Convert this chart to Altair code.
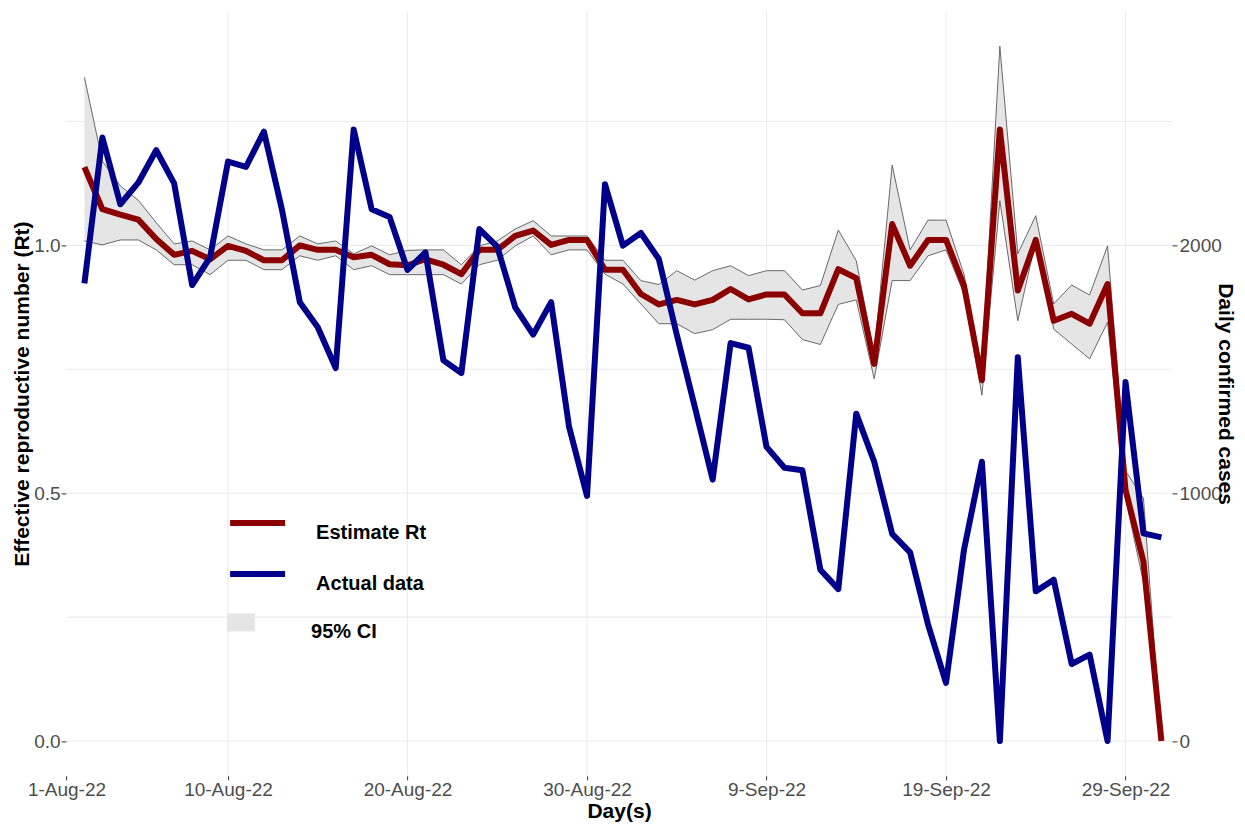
import altair as alt
import pandas as pd

F = "Liberation Sans"

# ---- data ----
dates = pd.date_range("2022-08-02", "2022-10-01", freq="D").strftime("%Y-%m-%d").tolist()

cases = [1847, 2435, 2166, 2253, 2384, 2250, 1840, 1952, 2338, 2317,
         2459, 2146, 1771, 1670, 1505, 2468, 2146, 2115, 1901, 1972,
         1536, 1485, 2066, 1995, 1750, 1640, 1771, 1268, 989, 2247,
         1999, 2050, 1945, 1640, 1350, 1055, 1606, 1587, 1187, 1103,
         1093, 691, 613, 1321, 1127, 836, 761, 470, 235, 771,
         1127, 0, 1549, 604, 651, 311, 349, 0, 1449, 838,
         822]

rt = [1.158, 1.073, 1.062, 1.052, 1.013, 0.981, 0.989, 0.972, 0.999, 0.989,
      0.970, 0.970, 1.000, 0.991, 0.991, 0.976, 0.981, 0.962, 0.960, 0.972,
      0.961, 0.942, 0.991, 0.991, 1.019, 1.030, 1.001, 1.011, 1.011, 0.951,
      0.951, 0.902, 0.881, 0.890, 0.881, 0.890, 0.912, 0.891, 0.901, 0.901,
      0.863, 0.863, 0.952, 0.934, 0.761, 1.043, 0.959, 1.011, 1.011, 0.919,
      0.728, 1.234, 0.909, 1.011, 0.848, 0.862, 0.842, 0.922, 0.507, 0.362,
      0.0]

upper = [1.339, 1.170, 1.120, 1.091, 1.046, 1.003, 1.009, 0.991, 1.019, 1.003,
         0.991, 0.991, 1.019, 1.003, 1.009, 0.983, 0.999, 0.981, 0.990, 0.991,
         0.991, 0.961, 0.999, 1.009, 1.033, 1.050, 1.019, 1.019, 1.019, 0.970,
         0.970, 0.929, 0.921, 0.949, 0.930, 0.949, 0.959, 0.939, 0.949, 0.949,
         0.910, 0.919, 1.031, 0.969, 0.780, 1.162, 0.991, 1.051, 1.051, 0.942,
         0.750, 1.402, 0.983, 1.060, 0.882, 0.920, 0.900, 0.999, 0.545, 0.490,
         0.0]

lower = [1.009, 1.001, 1.011, 1.011, 0.991, 0.961, 0.961, 0.941, 0.970, 0.970,
         0.951, 0.951, 0.979, 0.970, 0.979, 0.951, 0.959, 0.941, 0.941, 0.941,
         0.941, 0.922, 0.961, 0.970, 0.999, 1.019, 0.981, 0.991, 0.991, 0.942,
         0.922, 0.882, 0.842, 0.842, 0.822, 0.830, 0.851, 0.851, 0.851, 0.850,
         0.810, 0.800, 0.881, 0.890, 0.731, 0.929, 0.929, 0.979, 0.991, 0.902,
         0.698, 1.090, 0.848, 1.009, 0.831, 0.801, 0.771, 0.845, 0.490, 0.320,
         0.0]

tick_dates = ["2022-08-01", "2022-08-10", "2022-08-20", "2022-08-30",
              "2022-09-09", "2022-09-19", "2022-09-29"]
grid_dates = tick_dates[1:]
y_grid = [0.0, 0.25, 0.5, 0.75, 1.0, 1.25]
rt_ticks = [0.0, 0.5, 1.0]
case_ticks = [0, 1000, 2000]
series_names = ["Estimate Rt", "Actual data"]
series_colors = ["#8B0000", "#00008B"]
ci_name = ["95% CI"]

df = pd.DataFrame({"date": dates, "rt": rt, "lo": lower, "hi": upper, "cases": cases})


def dt(s, h=0, mi=0):
    y, m, d = (int(v) for v in s.split("-"))
    return alt.DateTime(year=y, month=m, date=d, hours=h, minutes=mi, utc=True)


W, H = 1105.9, 764.4
xscale = alt.Scale(type="utc", domain=[dt("2022-07-31", 23, 30), dt("2022-10-01", 14, 10)])
yscale = alt.Scale(domain=[-0.0701, 1.4721], nice=False, zero=False)
cscale = alt.Scale(domain=[-140.2, 2944.2], nice=False, zero=False)
color_scale = alt.Scale(domain=series_names, range=series_colors)
fill_scale = alt.Scale(domain=ci_name, range=["#e5e5e5"])

common_axis = dict(grid=False, domain=False, ticks=True, tickColor="#333333", tickWidth=1,
                   labelFont=F, labelFontSize=19, labelColor="#4d4d4d",
                   titleFont=F, titleFontSize=21, titleFontWeight="bold", titleColor="black",
                   titleAlign="center", titleBaseline="middle")

x_axis = alt.Axis(values=[dt(s) for s in tick_dates], format="%-d-%b-%y", title="Day(s)",
                  tickSize=4, labelPadding=1, labelOverlap=False, labelFlush=False,
                  titleX=W / 2 - 0.0, titleY=35.2, **common_axis)
y_axis = alt.Axis(values=rt_ticks, format=".1f", title="Effective reproductive number (Rt)",
                  tickSize=5, labelPadding=1, titleAngle=270, titleX=-44, titleY=H / 2,
                  **common_axis)
c_axis = alt.Axis(orient="right", values=case_ticks, format="d", title="Daily confirmed cases",
                  tickSize=5, labelPadding=2, titleAngle=90, titleX=52, titleY=H / 2,
                  **common_axis)

legend_common = dict(orient="none", title=None, padding=0, labelFont=F, labelFontSize=20,
                     labelFontWeight="bold", labelColor="black", labelBaseline="top")

color_legend = alt.Legend(legendX=161, legendY=481, symbolType="stroke", symbolSize=3025,
                          symbolStrokeWidth=6, labelOffset=28, rowPadding=-9, **legend_common)
fill_legend = alt.Legend(legendX=161, legendY=597, symbolType="M-1,-0.643H1V0.643H-1Z",
                         symbolSize=784, symbolStrokeWidth=0, symbolOpacity=1,
                         labelOffset=56, **legend_common)

base = alt.Chart(df)
X = alt.X("date:T", scale=xscale, axis=x_axis)
Yrt = lambda f: alt.Y(f, scale=yscale, axis=y_axis)

hgrid = alt.Chart(pd.DataFrame({"g": y_grid})).mark_rule(color="#ebebeb", strokeWidth=1.1).encode(
    y=Yrt("g:Q"))
vgrid = alt.Chart(pd.DataFrame({"d": grid_dates})).mark_rule(color="#ebebeb", strokeWidth=1.1).encode(
    x=alt.X("d:T", scale=xscale, axis=x_axis))

band = base.transform_calculate(ci="'95% CI'").mark_area(opacity=1).encode(
    x=X, y=Yrt("lo:Q"), y2="hi:Q",
    fill=alt.Fill("ci:N", scale=fill_scale, legend=fill_legend))
lo_line = base.mark_line(color="#595959", strokeWidth=0.9).encode(x=X, y=Yrt("lo:Q"))
hi_line = base.mark_line(color="#595959", strokeWidth=0.9).encode(x=X, y=Yrt("hi:Q"))
red = base.transform_calculate(series="'Estimate Rt'").mark_line(
    strokeWidth=6, strokeJoin="round").encode(
    x=X, y=Yrt("rt:Q"),
    color=alt.Color("series:N", scale=color_scale, legend=color_legend))

blue = base.transform_calculate(series="'Actual data'").mark_line(
    strokeWidth=6, strokeJoin="round").encode(
    x=X,
    y=alt.Y("cases:Q", scale=cscale, axis=c_axis),
    color=alt.Color("series:N", scale=color_scale, legend=color_legend))

left = alt.layer(hgrid, vgrid, band, lo_line, hi_line, red)

chart = alt.layer(left, blue).resolve_scale(y="independent").properties(
    width=W, height=H,
    autosize=alt.AutoSizeParams(type="none"),
    padding={"left": 58.1, "top": 3.4, "right": 65, "bottom": 46.2},
    background="white",
).configure_view(stroke=None)

chart.save("out.html", embed_options={"renderer": "svg", "actions": False})
